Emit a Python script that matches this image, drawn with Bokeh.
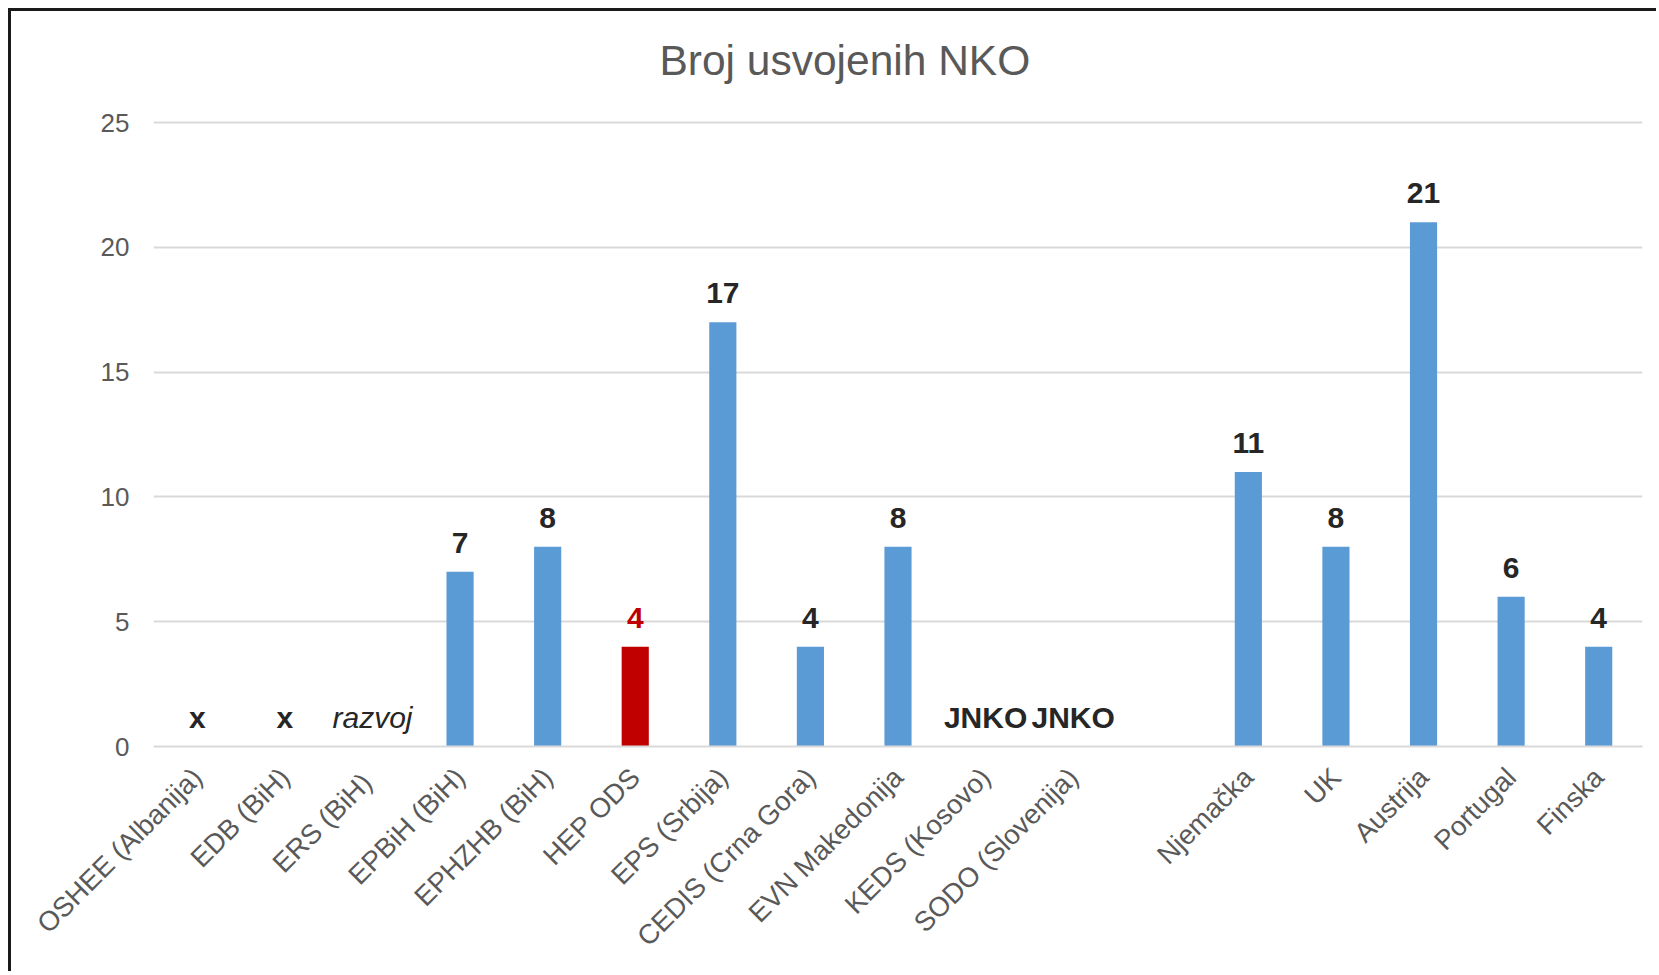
from math import pi
from bokeh.plotting import figure
from bokeh.models import ColumnDataSource, Range1d, FactorRange, FixedTicker, Label
from bokeh.core.properties import value
from bokeh.embed import file_html
from bokeh.resources import INLINE

title_text = "Broj usvojenih NKO"
categories = ["OSHEE (Albanija)", "EDB (BiH)", "ERS  (BiH)", "EPBiH (BiH)", "EPHZHB (BiH)",
              "HEP ODS", "EPS (Srbija)", "CEDIS (Crna Gora)", "EVN Makedonija",
              "KEDS (Kosovo)", "SODO (Slovenija)", " ", "Njemačka", "UK", "Austrija",
              "Portugal", "Finska"]
values = [0, 0, 0, 7, 8, 4, 17, 4, 8, 0, 0, 0, 11, 8, 21, 6, 4]
labels = ["x", "x", "razvoj", "7", "8", "4", "17", "4", "8", "JNKO", "JNKO", "",
          "11", "8", "21", "6", "4"]
y_ticks = [0, 5, 10, 15, 20, 25]
highlight = "HEP ODS"

BLUE = "#5B9BD5"
RED = "#C00000"
FONT = "Liberation Sans"

bar_colors = [RED if c == highlight else BLUE for c in categories]
label_colors = [RED if c == highlight else "#262626" for c in categories]

bars = ColumnDataSource(dict(
    cat=[c for c, v in zip(categories, values) if v > 0],
    val=[v for v in values if v > 0],
    color=[col for col, v in zip(bar_colors, values) if v > 0],
))

bold_idx = [i for i, t in enumerate(labels) if t and t != "razvoj"]
ital_idx = [i for i, t in enumerate(labels) if t == "razvoj"]
bold_src = ColumnDataSource(dict(
    cat=[categories[i] for i in bold_idx],
    val=[values[i] for i in bold_idx],
    txt=[labels[i] for i in bold_idx],
    color=[label_colors[i] for i in bold_idx],
))
ital_src = ColumnDataSource(dict(
    cat=[categories[i] for i in ital_idx],
    val=[values[i] for i in ital_idx],
    txt=[labels[i] for i in ital_idx],
))

W, H = 1648, 963
FRAME_TOP, FRAME_25, FRAME_BOTTOM = 20, 111, 735
px_per_unit = (FRAME_BOTTOM - FRAME_25) / 25.0
y_end = 25 + (FRAME_25 - FRAME_TOP) / px_per_unit

p = figure(x_range=FactorRange(*categories, range_padding=0),
           y_range=Range1d(0, y_end), title=None,
           width=W, height=H, output_backend="svg", toolbar_location=None,
           min_border_left=142, min_border_right=17, min_border_top=FRAME_TOP,
           min_border_bottom=H - FRAME_BOTTOM)
p.styles = {"margin-left": "8px", "margin-top": "8px",
            "border-left": "3px solid #1a1a1a", "border-top": "3px solid #1a1a1a"}

# chart title (placed as a label above the 25 gridline)
p.add_layout(Label(x=5.776, y=25 + (FRAME_25 - 49) / px_per_unit, text=title_text,
                   text_font=FONT, text_font_size="42.5px", text_color="#595959",
                   text_align="left", text_baseline="alphabetic"))

p.vbar(x="cat", top="val", width=0.31, source=bars, fill_color="color", line_color=None)

p.text(x="cat", y="val", text="txt", source=bold_src, text_color="color",
       text_font=value(FONT), text_font_size="30px", text_font_style="bold",
       text_align="center", text_baseline="alphabetic", y_offset=-29)
p.text(x="cat", y="val", text="txt", source=ital_src, text_color="#262626",
       text_font=value(FONT), text_font_size="30px", text_font_style="italic",
       text_align="center", text_baseline="alphabetic", y_offset=-29)

p.outline_line_color = None
p.xgrid.grid_line_color = None
p.ygrid.grid_line_color = "#d9d9d9"
p.ygrid.grid_line_width = 2
p.yaxis.ticker = FixedTicker(ticks=y_ticks)
p.yaxis.axis_line_color = None
p.yaxis.major_tick_line_color = None
p.yaxis.minor_tick_line_color = None
p.yaxis.major_label_standoff = 18
p.yaxis.major_label_text_font = FONT
p.yaxis.major_label_text_font_size = "26px"
p.yaxis.major_label_text_color = "#595959"

p.xaxis.axis_line_color = "#d9d9d9"
p.xaxis.axis_line_width = 2
p.xaxis.major_tick_line_color = None
p.xaxis.minor_tick_line_color = None
p.xaxis.major_label_orientation = pi / 4
p.xaxis.major_label_standoff = 20
p.xaxis.major_label_text_font = FONT
p.xaxis.major_label_text_font_size = "27.5px"
p.xaxis.major_label_text_color = "#595959"

open("out.html", "w").write(file_html(p, INLINE))
